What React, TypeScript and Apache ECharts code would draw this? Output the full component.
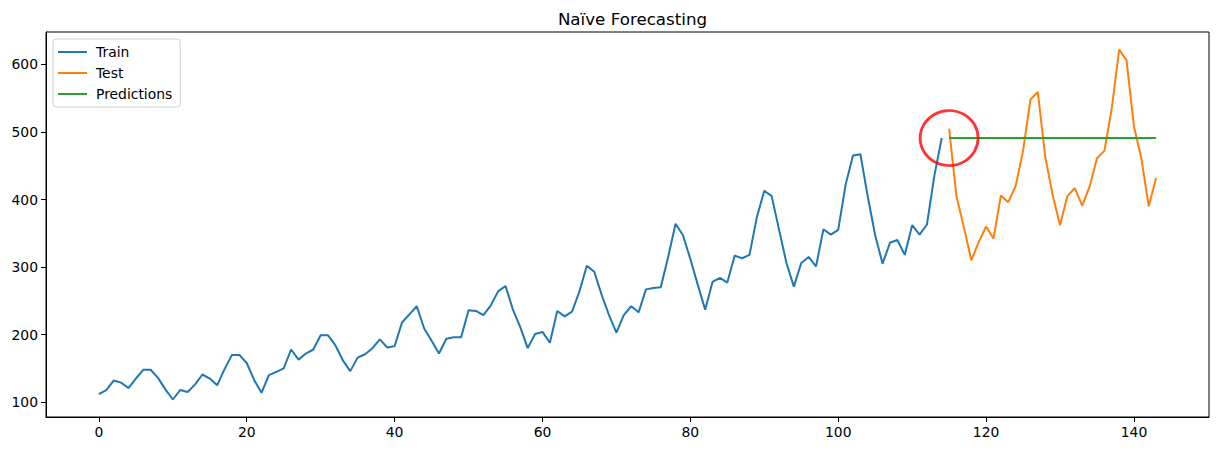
import React, { useEffect, useRef } from "react";
import * as echarts from "echarts";

const passengers = [
  112, 118, 132, 129, 121, 135, 148, 148, 136, 119, 104, 118,
  115, 126, 141, 135, 125, 149, 170, 170, 158, 133, 114, 140,
  145, 150, 178, 163, 172, 178, 199, 199, 184, 162, 146, 166,
  171, 180, 193, 181, 183, 218, 230, 242, 209, 191, 172, 194,
  196, 196, 236, 235, 229, 243, 264, 272, 237, 211, 180, 201,
  204, 188, 235, 227, 234, 264, 302, 293, 259, 229, 203, 229,
  242, 233, 267, 269, 270, 315, 364, 347, 312, 274, 237, 278,
  284, 277, 317, 313, 318, 374, 413, 405, 355, 306, 271, 306,
  315, 301, 356, 348, 355, 422, 465, 467, 404, 347, 305, 336,
  340, 318, 362, 348, 363, 435, 491, 505, 404, 359, 310, 337,
  360, 342, 406, 396, 420, 472, 548, 559, 463, 407, 362, 405,
  417, 391, 419, 461, 472, 535, 622, 606, 508, 461, 390, 432,
];
const trainSize = 115;
const trainValues = passengers.slice(0, trainSize);
const testValues = passengers.slice(trainSize);
const predictionValue = trainValues[trainValues.length - 1];
const xTicks = [0, 20, 40, 60, 80, 100, 120, 140];
const yTicks = [100, 200, 300, 400, 500, 600];
const highlightPoint = [115, 491];

export default function App() {
  const ref = useRef<HTMLDivElement>(null);
  useEffect(() => {
    if (!ref.current) return;
    const chart = echarts.init(ref.current, null, { renderer: "svg" });
    const train = trainValues.map((v, i) => [i, v]);
    const test = testValues.map((v, i) => [i + trainSize, v]);
    const preds = testValues.map((_, i) => [i + trainSize, predictionValue]);
    const font = "DejaVu Sans";
    chart.setOption({
      animation: false,
      title: {
        text: "Naïve Forecasting",
        left: 627.5,
        textAlign: "center",
        top: 5,
        textStyle: { fontFamily: font, fontSize: 16.7, fontWeight: "normal", color: "#000" },
      },
      grid: {
        left: 46,
        right: 9,
        top: 32,
        bottom: 34,
        show: true,
        borderColor: "#000",
        borderWidth: 1,
        containLabel: false,
      },
      legend: {
        orient: "vertical",
        left: 53,
        top: 39,
        padding: [5, 8, 5, 5],
        itemGap: 5,
        itemWidth: 29,
        itemHeight: 2,
        icon: "rect",
        borderColor: "#d0d0d0",
        borderWidth: 1,
        borderRadius: 3,
        textStyle: { fontFamily: font, fontSize: 13.9, color: "#000", padding: [0, 0, 0, 4], lineHeight: 16 },
        data: ["Train", "Test", "Predictions"],
      },
      xAxis: {
        type: "value",
        min: -7.15,
        max: 150.15,
        splitLine: { show: false },
        axisLine: { onZero: false, lineStyle: { color: "#000", width: 1 } },
        axisTick: { show: true, length: 5, customValues: xTicks, lineStyle: { color: "#000" } },
        axisLabel: { customValues: xTicks, fontFamily: font, fontSize: 13.9, color: "#000", margin: 8 },
      },
      yAxis: {
        type: "value",
        min: 78.1,
        max: 647.9,
        splitLine: { show: false },
        axisLine: { show: true, onZero: false, lineStyle: { color: "#000", width: 1 } },
        axisTick: { show: true, length: 5, customValues: yTicks, lineStyle: { color: "#000" } },
        axisLabel: { customValues: yTicks, fontFamily: font, fontSize: 13.9, color: "#000", margin: 8 },
      },
      series: [
        {
          name: "Train",
          type: "line",
          data: train,
          symbol: "none",
          color: "#1f77b4",
          lineStyle: { width: 2, color: "#1f77b4" },
        },
        {
          name: "Test",
          type: "line",
          data: test,
          symbol: "none",
          color: "#ff7f0e",
          lineStyle: { width: 2, color: "#ff7f0e" },
        },
        {
          name: "Predictions",
          type: "line",
          data: preds,
          symbol: "none",
          color: "#2ca02c",
          lineStyle: { width: 2, color: "#2ca02c" },
        },
        {
          name: "highlight",
          type: "scatter",
          data: [highlightPoint],
          symbol: "circle",
          symbolSize: [58, 55],
          itemStyle: { color: "rgba(0,0,0,0)", borderColor: "#ff0000", borderWidth: 2.8 },
          silent: true,
          z: 5,
        },
      ],
    });
    return () => chart.dispose();
  }, []);
  return (
    <div
      ref={ref}
      style={{ position: "fixed", left: 0, top: 0, width: 1218, height: 451, background: "#fff" }}
    />
  );
}
